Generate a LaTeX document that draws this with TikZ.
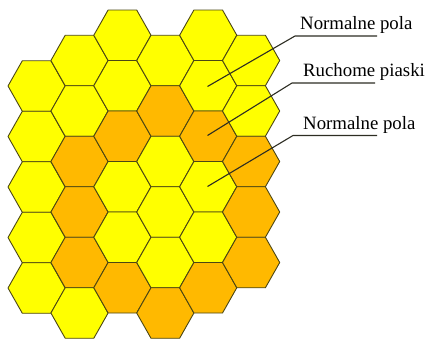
\documentclass[tikz,border=0pt]{standalone}
\usepackage{fontspec}
\setmainfont{Liberation Serif}
\definecolor{hexyellow}{RGB}{255,255,0}
\definecolor{hexorange}{RGB}{255,185,0}
\definecolor{hexedge}{RGB}{75,70,20}
\definecolor{leadercol}{RGB}{45,45,35}
\begin{document}
\begin{tikzpicture}[x=1pt,y=-1pt,
  hexcell/.style={draw=hexedge,line width=0.9pt,line join=round},
  leader/.style={draw=leadercol,line width=1.1pt},
  lbl/.style={font=\fontsize{18.8}{22}\selectfont,anchor=base west,inner sep=0pt}]
\useasboundingbox (0,0) rectangle (427,338);
% column x: 36.6 + 42.9*c ; even-offset columns start at 35.25, others at 60.5
\foreach \x/\y/\col in {
  36.6/86/hexyellow, 36.6/136.5/hexyellow, 36.6/187/hexyellow, 36.6/237.5/hexyellow, 36.6/288/hexyellow,
  79.5/60.5/hexyellow, 79.5/111/hexyellow, 79.5/161.5/hexorange, 79.5/212/hexorange, 79.5/262.5/hexorange, 79.5/313/hexyellow,
  122.4/35.25/hexyellow, 122.4/85.75/hexyellow, 122.4/136.25/hexorange, 122.4/186.75/hexyellow, 122.4/237.25/hexyellow, 122.4/287.75/hexorange,
  165.3/60.5/hexyellow, 165.3/111/hexorange, 165.3/161.5/hexyellow, 165.3/212/hexyellow, 165.3/262.5/hexyellow, 165.3/313/hexorange,
  208.2/35.25/hexyellow, 208.2/85.75/hexyellow, 208.2/136.25/hexorange, 208.2/186.75/hexyellow, 208.2/237.25/hexyellow, 208.2/287.75/hexorange,
  251.1/60.5/hexyellow, 251.1/111/hexyellow, 251.1/161.5/hexorange, 251.1/212/hexorange, 251.1/262.5/hexorange}
{
  \path[hexcell,fill=\col,shift={(\x,\y)}]
    (-28.6,0) -- (-14.3,-25.25) -- (14.3,-25.25) -- (28.6,0) -- (14.3,25.25) -- (-14.3,25.25) -- cycle;
}
% hex centres where the leaders end
\coordinate (h1) at (207.5,86.5);
\coordinate (h2) at (207.5,135.5);
\coordinate (h3) at (207.5,186.5);
% leader knees and ends
\coordinate (k1) at (295,36);
\coordinate (e1) at (377,36);
\coordinate (k2) at (292,83);
\coordinate (e2) at (375,83);
\coordinate (k3) at (293,135.5);
\coordinate (e3) at (377,135.5);
% labels
\node[lbl] (l1) at (300,29) {Normalne pola};
\node[lbl] (l2) at (303,76) {Ruchome piaski};
\node[lbl] (l3) at (303,129) {Normalne pola};
\draw[leader] (h1) -- (k1) -- (e1);
\draw[leader] (h2) -- (k2) -- (e2);
\draw[leader] (h3) -- (k3) -- (e3);
\end{tikzpicture}
\end{document}
